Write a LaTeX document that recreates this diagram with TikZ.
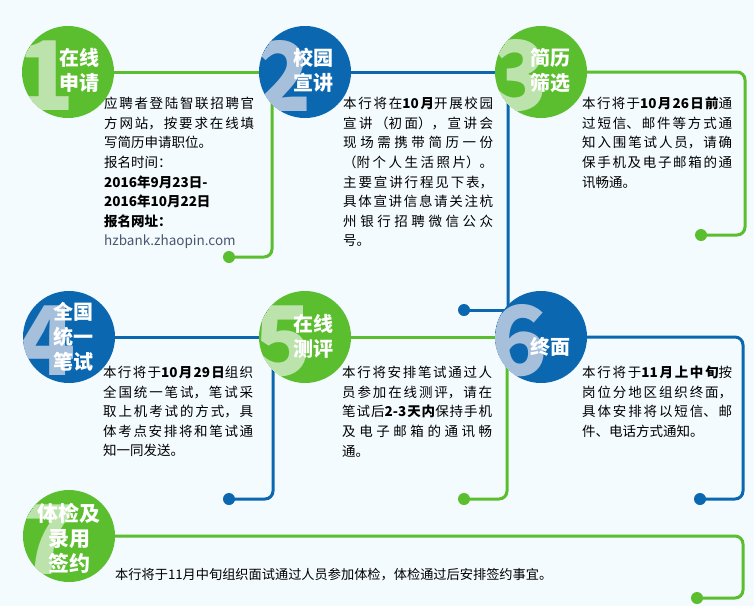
\documentclass[tikz,border=0pt]{standalone}
\usepackage{fontspec}
\setmainfont{Noto Sans CJK SC}
\usetikzlibrary{positioning, backgrounds}
\definecolor{stepgreen}{HTML}{5BBE2E}
\definecolor{stepblue}{HTML}{0A67B0}
\definecolor{fadegreen}{HTML}{BCE3AC}
\definecolor{fadeblue}{HTML}{A6BFDB}
\definecolor{pagebg}{HTML}{F3FBFE}
\definecolor{urlgray}{HTML}{4A5670}
\XeTeXlinebreaklocale "zh"
\XeTeXlinebreakskip=0pt plus 3pt
\tikzset{
  stepdisc/.style={circle, minimum size=92pt, inner sep=0pt},
  digit/.style={font=\fontsize{96}{96}\selectfont\bfseries, inner sep=0pt},
  title/.style={white, font=\fontsize{20}{25}\selectfont\bfseries, align=center, inner sep=0pt},
  body/.style={anchor=north west, inner sep=0pt, text width=150pt,
    font=\fontsize{13.5}{19.6}\selectfont, align=justify},
  gline/.style={stepgreen, line width=3pt},
  bline/.style={stepblue, line width=3pt},
  enddot/.style={circle, minimum size=12pt, inner sep=0pt},
}
\newcommand{\stepcircle}[6]{% name, pos, fill, fade, digit, title
  \node[stepdisc, fill=#3] (#1) at #2 {};
  \begin{scope}
    \clip (#1.center) circle (46pt);
    \node[digit, #4] at ([xshift=-22pt, yshift=-4pt]#1.center) {#5};
  \end{scope}
}
\begin{document}
\begin{tikzpicture}[x=1pt, y=-1pt]
  \useasboundingbox (0,0) rectangle (754,606);

  % step discs
  \stepcircle{s1}{(68,72)}{stepgreen}{fadegreen}{1}{}
  \stepcircle{s2}{(305,72)}{stepblue}{fadeblue}{2}{}
  \stepcircle{s3}{(541,72)}{stepgreen}{fadegreen}{3}{}
  \stepcircle{s4}{(69,337)}{stepblue}{fadeblue}{4}{}
  \stepcircle{s5}{(305,337)}{stepgreen}{fadegreen}{5}{}
  \stepcircle{s6}{(541,337)}{stepblue}{fadeblue}{6}{}
  \stepcircle{s7}{(69,536)}{stepgreen}{fadegreen}{7}{}

  % titles
  \node[title] (h1) at (79,70) {在线\\申请};
  \node[title] (h2) at (313,70) {校园\\宣讲};
  \node[title] (h3) at (550,70) {简历\\筛选};
  \node[title] (h4) at (73,337) {全国\\统一\\笔试};
  \node[title] (h5) at (313,336) {在线\\测评};
  \node[title] (h6) at (550,347) {终面};
  \node[title, font=\fontsize{21}{25}\selectfont\bfseries] (h7) at (69,538) {体检及\\录用\\签约};

  % end dots and corners
  \node[enddot, fill=stepgreen] (d1) at (229,257) {};
  \node[enddot, fill=stepblue] (d2) at (464,310) {};
  \node[enddot, fill=stepgreen] (d3) at (701,235) {};
  \node[enddot, fill=stepblue] (d4) at (229,499) {};
  \node[enddot, fill=stepgreen] (d5) at (464,499) {};
  \node[enddot, fill=stepblue] (d6) at (700,499) {};
  \node[enddot, fill=stepgreen] (d7) at (697,598) {};
  \coordinate (k1) at (272,257);
  \coordinate (k2) at (508,310);
  \coordinate (k3) at (745,235);
  \coordinate (k4) at (273,499);
  \coordinate (k5) at (507,499);
  \coordinate (k6) at (743,499);
  \coordinate (k7) at (743,598);

  % connectors
  \begin{pgfonlayer}{background}
    \fill[pagebg] (0,0) rectangle (754,606);
    \draw[gline] (s1.center) -- (s2.center);
    \draw[gline, rounded corners=8pt] (s2.center) -| (k1) -- (d1.center);
    \draw[bline] (s2.center) -- (s3.center);
    \draw[bline] (s3.center) -| (k2) -- (s6.center);
    \draw[bline] (k2) -- (d2.center);
    \draw[gline, rounded corners=8pt] (s3.center) -| (k3) -- (d3.center);
    \draw[bline] (s4.center) -- (s5.center);
    \draw[bline, rounded corners=8pt] (s5.center) -| (k4) -- (d4.center);
    \draw[gline] (s5.center) -- (s6.center);
    \draw[gline, rounded corners=8pt] (s6.center) -| (k5) -- (d5.center);
    \draw[bline, rounded corners=8pt] (s6.center) -| (k6) -- (d6.center);
    \draw[gline, rounded corners=8pt] (s7.center) -| (k7) -- (d7.center);
  \end{pgfonlayer}

  % step texts
  \node[body] (t1) at (104,97) {应聘者登陆智联招聘官\linebreak 方网站，按要求在线填\linebreak 写简历申请职位。\\
    报名时间：\\ \textbf{2016年9月23日-}\\ \textbf{2016年10月22日}\\ \textbf{报名网址：}\\
    {\color{urlgray}hzbank.zhaopin.com}};
  \node[body] (t2) at (343,97) {本行将在\textbf{10月}开展校园\linebreak 宣讲（初面），宣讲会\linebreak 现场需携带简历一份\linebreak （附个人生活照片）。\linebreak
    主要宣讲行程见下表，\linebreak 具体宣讲信息请关注杭\linebreak 州银行招聘微信公众\linebreak 号。};
  \node[body] (t3) at (582,97) {本行将于\textbf{10月26日前}通\linebreak 过短信、邮件等方式通\linebreak 知入围笔试人员，请确\linebreak 保手机及电子邮箱的通\linebreak 讯畅通。};
  \node[body] (t4) at (103,366) {本行将于\textbf{10月29日}组织\linebreak 全国统一笔试，笔试采\linebreak 取上机考试的方式，具\linebreak 体考点安排将和笔试通\linebreak 知一同发送。};
  \node[body] (t5) at (342,366) {本行将安排笔试通过人\linebreak 员参加在线测评，请在\linebreak 笔试后\textbf{2-3天内}保持手机\linebreak 及电子邮箱的通讯畅\linebreak 通。};
  \node[body] (t6) at (582,366) {本行将于\textbf{11月上中旬}按\linebreak 岗位分地区组织终面，\linebreak 具体安排将以短信、邮\linebreak 件、电话方式通知。};
  \node[anchor=west, inner sep=0pt, font=\fontsize{13.2}{16}\selectfont] (t7) at (115,575)
    {本行将于11月中旬组织面试通过人员参加体检，体检通过后安排签约事宜。};
\end{tikzpicture}
\end{document}
